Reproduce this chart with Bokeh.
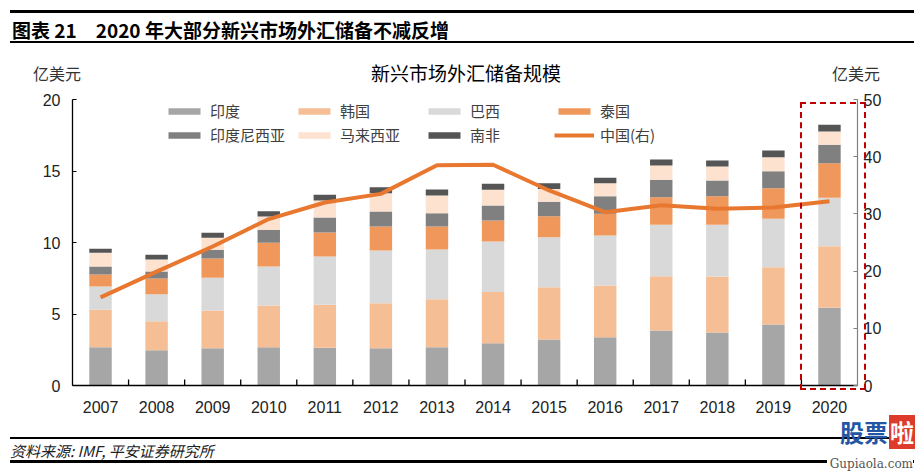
from bokeh.plotting import figure
from bokeh.models import (ColumnDataSource, Range1d, LinearAxis, FactorRange, Legend,
                          LegendItem, FixedTicker, Div, GridBox)
from bokeh.transform import dodge
from bokeh.embed import file_html
from bokeh.resources import INLINE

# ---------------- data ----------------
years = ["2007", "2008", "2009", "2010", "2011", "2012", "2013",
         "2014", "2015", "2016", "2017", "2018", "2019", "2020"]
india = [2.68, 2.47, 2.61, 2.68, 2.64, 2.61, 2.68, 2.96, 3.22, 3.38, 3.85, 3.71, 4.27, 5.43]
korea = [2.61, 2.03, 2.63, 2.91, 3.00, 3.15, 3.35, 3.57, 3.65, 3.61, 3.79, 3.91, 4.00, 4.31]
brazil = [1.63, 1.88, 2.29, 2.73, 3.38, 3.68, 3.48, 3.54, 3.50, 3.50, 3.60, 3.62, 3.39, 3.39]
thailand = [0.84, 1.10, 1.35, 1.66, 1.68, 1.68, 1.61, 1.47, 1.47, 1.52, 1.93, 2.00, 2.14, 2.42]
indonesia = [0.56, 0.49, 0.61, 0.91, 1.05, 1.05, 0.93, 1.05, 1.01, 1.23, 1.21, 1.10, 1.19, 1.28]
malaysia = [0.96, 0.84, 0.84, 0.93, 1.19, 1.28, 1.24, 1.10, 0.90, 0.91, 1.00, 0.97, 0.97, 0.93]
south_africa = [0.28, 0.33, 0.35, 0.37, 0.40, 0.42, 0.42, 0.41, 0.40, 0.37, 0.42, 0.42, 0.47, 0.47]
china = [15.4, 19.9, 24.3, 29.1, 32.0, 33.5, 38.5, 38.6, 34.1, 30.3, 31.5, 30.9, 31.1, 32.2]

series_keys = ["india", "korea", "brazil", "thailand", "indonesia", "malaysia", "south_africa"]
series_names = ["印度", "韩国", "巴西", "泰国", "印度尼西亚", "马来西亚", "南非"]
series_colors = ["#a6a6a6", "#f5be95", "#d9d9d9", "#f0985c", "#808080", "#fce2cf", "#555555"]
china_name = "中国(右)"
china_color = "#e8782f"
left_ticks = [0, 5, 10, 15, 20]
right_ticks = [0, 10, 20, 30, 40, 50]

header_title = "图表 21　2020 年大部分新兴市场外汇储备不减反增"
chart_title = "新兴市场外汇储备规模"
unit_label = "亿美元"
source_note = "资料来源: IMF, 平安证券研究所"

CJK = "Noto Sans CJK SC"
LAT = "Liberation Sans"
W, H = 914, 470

src = ColumnDataSource(dict(year=years, india=india, korea=korea, brazil=brazil,
                            thailand=thailand, indonesia=indonesia, malaysia=malaysia,
                            south_africa=south_africa, china=china))

# frame: x 72..857, y 99..385
p = figure(width=W, height=H, x_range=FactorRange(*years), y_range=Range1d(0, 20),
           output_backend="svg", toolbar_location=None,
           min_border_left=72, min_border_right=W - 857, min_border_top=99,
           min_border_bottom=H - 385)
p.outline_line_color = None
p.xgrid.grid_line_color = None
p.ygrid.grid_line_color = None
p.background_fill_color = "white"
p.border_fill_color = "white"

p.extra_y_ranges = {"right": Range1d(0, 50)}

bars = p.vbar_stack(series_keys, x="year", width=0.4, source=src,
                    color=series_colors, line_color=None)
china_r = p.line(x="year", y="china", source=src, y_range_name="right",
                 line_color=china_color, line_width=4)

# boundary ticks on the x axis (between categories)
tsrc = ColumnDataSource(dict(x=years[:-1]))
p.segment(x0=dodge("x", 0.5, range=p.x_range), x1=dodge("x", 0.5, range=p.x_range),
          y0=0, y1=0.42, source=tsrc, line_color="black", line_width=1.3)

# left axis
ly = p.yaxis[0]
ly.ticker = FixedTicker(ticks=left_ticks)
ly.axis_line_color = "black"
ly.axis_line_width = 1.3
ly.major_tick_in = 4
ly.major_tick_out = 0
ly.major_tick_line_color = "black"
ly.minor_tick_line_color = None
ly.major_label_text_font = LAT
ly.major_label_text_font_size = "16px"
ly.major_label_text_color = "#222222"
ly.major_label_standoff = 12

# right axis
ry = LinearAxis(y_range_name="right", ticker=FixedTicker(ticks=right_ticks))
ry.axis_line_color = "#808080"
ry.axis_line_width = 1.2
ry.major_tick_in = 4
ry.major_tick_out = 0
ry.major_tick_line_color = "#808080"
ry.minor_tick_line_color = None
ry.major_label_text_font = LAT
ry.major_label_text_font_size = "16px"
ry.major_label_text_color = "#222222"
ry.major_label_standoff = 6
p.add_layout(ry, "right")

# x axis
xa = p.xaxis[0]
xa.axis_line_color = "black"
xa.axis_line_width = 1.5
xa.major_tick_line_color = None
xa.minor_tick_line_color = None
xa.major_label_text_font = LAT
xa.major_label_text_font_size = "16px"
xa.major_label_text_color = "#222222"
xa.major_label_standoff = 9

# legend (inside the frame, at its top)
items = [LegendItem(label=n, renderers=[r]) for n, r in zip(series_names, bars)]
items.append(LegendItem(label=china_name, renderers=[china_r]))
legend = Legend(items=items, orientation="horizontal", ncols=4, location=(92, 240),
                glyph_width=40, glyph_height=8, label_width=81, label_height=16,
                label_standoff=6, spacing=3, padding=0, margin=0,
                border_line_color=None, background_fill_alpha=0,
                label_text_font=CJK, label_text_font_size="15px",
                label_text_color="#404040")
p.add_layout(legend)


# ---------------- overlay with texts outside the frame ----------------
def span(text, x, y, size, color="#222", weight="normal", style="normal", align="left",
         font=CJK, extra=""):
    lh = round(size * 1.4)
    if align == "left":
        pos = f"left:{x}px;"
    elif align == "right":
        pos = f"right:{W - x}px;"
    else:
        pos = f"left:{x}px;transform:translateX(-50%);"
    return (f'<div style="position:absolute;{pos}top:{y - lh / 2}px;height:{lh}px;'
            f'line-height:{lh}px;white-space:nowrap;font-family:\'{font}\',sans-serif;'
            f'font-size:{size}px;font-weight:{weight};font-style:{style};color:{color};{extra}">'
            f'{text}</div>')


def rule(x0, x1, y0, y1, color="#000"):
    return (f'<div style="position:absolute;left:{x0}px;top:{y0}px;width:{x1 - x0}px;'
            f'height:{y1 - y0}px;background:{color};"></div>')


parts = [
    rule(10, W, 10, 12.5),
    rule(10, W, 41, 43),
    span(header_title, 12, 29.5, 19, color="#000", weight="bold"),
    span(unit_label, 33, 72.5, 16, color="#333"),
    span(unit_label, 880, 72.5, 16, color="#333", align="right"),
    span(chart_title, 466, 72.5, 19, color="#000", align="center"),
    # dashed highlight around 2020
    '<div style="position:absolute;left:800px;top:102px;width:66px;height:288px;'
    'box-sizing:border-box;border:2px dashed #c00000;"></div>',
    rule(10, W, 437, 438.5),
    rule(10, W, 460, 462.5),
    span(source_note, 10, 450, 15, color="#222", style="italic"),
    span("股票", 840, 432, 24, color="#2456a6", weight="bold"),
    span("啦", 889, 432, 24, color="#fff", weight="bold",
         extra="background:#dd3b2c;padding:0 1px;"),
    span("Gupiaola.com", 913, 464, 12, color="#555", align="right", font="DejaVu Serif",
         extra="background:#fff;padding-left:3px;"),
]
html = (f'<div style="position:relative;width:{W}px;height:{H}px;pointer-events:none;">'
        + "".join(parts) + "</div>")
overlay = Div(text=html, width=W, height=H, margin=0)

grid = GridBox(children=[(p, 0, 0), (overlay, 0, 0)], spacing=0)

open("out.html", "w").write(file_html(grid, INLINE))
